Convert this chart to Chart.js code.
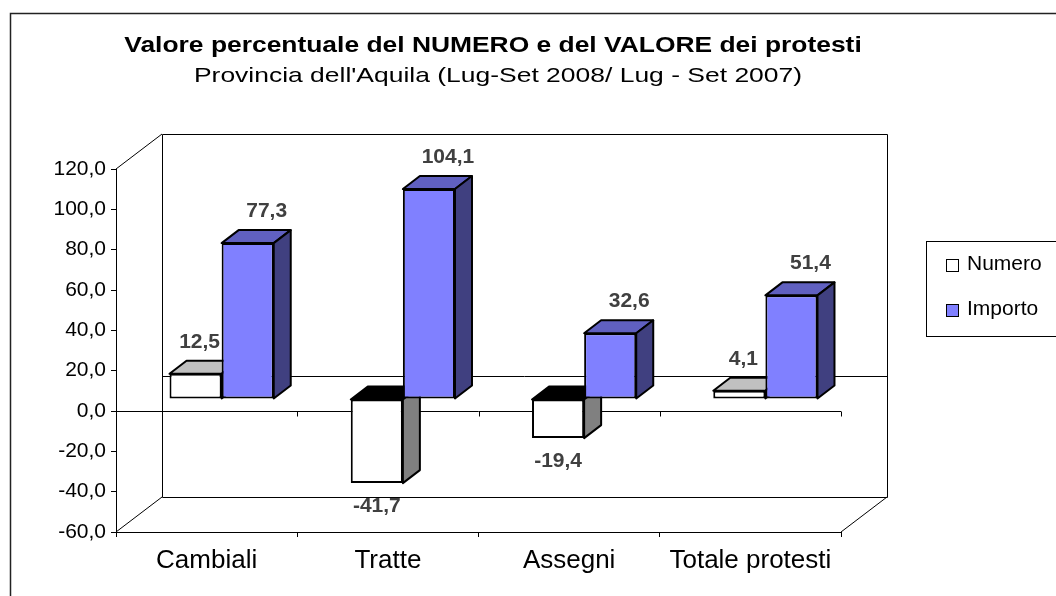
<!DOCTYPE html>
<html>
<head>
<meta charset="utf-8">
<script src="https://cdn.jsdelivr.net/npm/chart.js@4.4.0/dist/chart.umd.min.js"></script>
<style>
  html, body { margin: 0; padding: 0; background: #fff; }
</style>
</head>
<body>
<canvas id="protestiChart" width="1056" height="596"></canvas>
<script>
// data
const categories = ['Cambiali', 'Tratte', 'Assegni', 'Totale protesti'];
const numero = [12.5, -41.7, -19.4, 4.1];
const importo = [77.3, 104.1, 32.6, 51.4];
const yTicks = [-60, -40, -20, 0, 20, 40, 60, 80, 100, 120];

const titleText = 'Valore percentuale del NUMERO e del VALORE dei protesti';
const subtitleText = "Provincia dell'Aquila (Lug-Set 2008/ Lug - Set 2007)";

const FONT = "'Liberation Sans', Arial, sans-serif";

// 3d look: depth of the box, where the bars stand, depth of the bars
const wallDepth = {x: 46, y: -35};
const barShift = {x: 15, y: -12};
const barDepth = {x: 17, y: -13};

const faceColors = [
    {top: '#c0c0c0', topNeg: '#000000', side: '#808080', labelDx: 4},
    {top: '#6060c0', topNeg: '#202040', side: '#404080', labelDx: 19}
];

const fmt = v => v.toFixed(1).replace('.', ',');

function face(ctx, pts, color) {
    ctx.beginPath();
    ctx.moveTo(pts[0][0], pts[0][1]);
    for (let i = 1; i < pts.length; i++) ctx.lineTo(pts[i][0], pts[i][1]);
    ctx.closePath();
    ctx.fillStyle = color;
    ctx.fill();
    ctx.stroke();
}

function stretchedText(ctx, text, cx, baseline, font, sx) {
    ctx.save();
    ctx.font = font;
    ctx.fillStyle = '#000';
    ctx.textAlign = 'center';
    ctx.textBaseline = 'alphabetic';
    ctx.translate(cx, baseline);
    ctx.scale(sx, 1);
    ctx.fillText(text, 0, 0);
    ctx.restore();
}

const box3d = {
    id: 'box3d',
    beforeDraw(chart) {
        const ctx = chart.ctx;
        ctx.save();
        ctx.strokeStyle = '#222';
        ctx.lineWidth = 1.5;
        ctx.beginPath();
        ctx.moveTo(10.5, 600);
        ctx.lineTo(10.5, 13.5);
        ctx.lineTo(1060, 13.5);
        ctx.stroke();
        ctx.restore();
    },
    beforeDatasetsDraw(chart) {
        const {ctx, chartArea: a, scales: {x, y}} = chart;
        const dx = wallDepth.x, dy = wallDepth.y;
        const zero = Math.round(y.getPixelForValue(0)) + 0.5;
        ctx.save();
        ctx.strokeStyle = '#000';
        ctx.lineWidth = 1;
        ctx.beginPath();
        // back wall
        ctx.rect(a.left + dx + 0.5, a.top + dy + 0.5, a.right - a.left, a.bottom - a.top);
        // side wall / floor edges
        ctx.moveTo(a.left, a.top); ctx.lineTo(a.left + dx, a.top + dy);
        ctx.moveTo(a.left, a.bottom); ctx.lineTo(a.left + dx, a.bottom + dy);
        ctx.moveTo(a.right, a.bottom); ctx.lineTo(a.right + dx, a.bottom + dy);
        // zero lines, back and front
        ctx.moveTo(a.left + dx, zero + dy); ctx.lineTo(a.right + dx, zero + dy);
        ctx.moveTo(a.left, zero); ctx.lineTo(a.right, zero);
        for (let i = 0; i <= categories.length; i++) {
            const px = Math.round(x.getPixelForValue(i - 0.5)) + 0.5;
            ctx.moveTo(px, zero); ctx.lineTo(px, zero + 5);
        }
        ctx.stroke();
        ctx.restore();
    },
    // chart.js paints the last dataset first; the boxes are painted below instead,
    // left bar first so the right one hides its side face
    beforeDatasetDraw() {
        return false;
    },
    afterDatasetsDraw(chart) {
        const ctx = chart.ctx;
        ctx.save();
        // bars stand a bit inside the box
        ctx.translate(barShift.x, barShift.y);
        chart.data.datasets.forEach((ds, i) => {
            const c = faceColors[i];
            chart.getDatasetMeta(i).data.forEach(bar => {
                bar.draw(ctx);
                const {x, y, base, width} = bar.getProps(['x', 'y', 'base', 'width'], true);
                const l = x - width / 2, r = x + width / 2;
                const t = Math.min(y, base), b = Math.max(y, base);
                const ddx = barDepth.x, ddy = barDepth.y;
                ctx.save();
                ctx.lineWidth = 2;
                ctx.strokeStyle = '#000';
                ctx.lineJoin = 'round';
                face(ctx, [[l, t], [r, t], [r + ddx, t + ddy], [l + ddx, t + ddy]], y > base ? c.topNeg : c.top);
                face(ctx, [[r, t], [r + ddx, t + ddy], [r + ddx, b + ddy], [r, b]], c.side);
                ctx.restore();
            });
        });

        ctx.font = 'bold 21px ' + FONT;
        ctx.fillStyle = '#404040';
        ctx.textAlign = 'center';
        ctx.textBaseline = 'middle';
        chart.data.datasets.forEach((ds, i) => {
            chart.getDatasetMeta(i).data.forEach((bar, j) => {
                const v = ds.data[j];
                const {x, y} = bar.getProps(['x', 'y'], true);
                if (v >= 0) ctx.fillText(fmt(v), x + faceColors[i].labelDx, y - 32);
                else ctx.fillText(fmt(v), x, y + 23);
            });
        });
        ctx.restore();
    },
    afterDraw(chart) {
        const ctx = chart.ctx;
        stretchedText(ctx, titleText, 493, 52, 'bold 22px ' + FONT, 1.2);
        stretchedText(ctx, subtitleText, 498, 82, '21px ' + FONT, 1.26);

        // legend box
        ctx.save();
        ctx.strokeStyle = '#000';
        ctx.lineWidth = 1;
        ctx.strokeRect(926.5, 241.5, 140, 95);
        ctx.font = '21px ' + FONT;
        ctx.textBaseline = 'middle';
        ctx.textAlign = 'left';
        chart.data.datasets.forEach((ds, i) => {
            const top = 259 + i * 45;
            ctx.fillStyle = ds.backgroundColor;
            ctx.fillRect(946, top, 13, 13);
            ctx.strokeRect(946.5, top + 0.5, 12, 12);
            ctx.fillStyle = '#000';
            ctx.fillText(ds.label, 967, top + 5);
        });
        ctx.restore();
    }
};

new Chart(document.getElementById('protestiChart'), {
    type: 'bar',
    data: {
        labels: categories,
        datasets: [{
            label: 'Numero',
            data: numero,
            backgroundColor: '#ffffff',
            borderColor: '#000000',
            borderWidth: 2,
            borderSkipped: false
        }, {
            label: 'Importo',
            data: importo,
            backgroundColor: '#8080ff',
            borderColor: '#000000',
            borderWidth: 2,
            borderSkipped: false
        }]
    },
    options: {
        responsive: false,
        animation: false,
        categoryPercentage: 0.575,
        barPercentage: 1,
        layout: {padding: {left: 10, top: 169, right: 215, bottom: 0}},
        plugins: {
            legend: {display: false},
            title: {display: false},
            tooltip: {enabled: false}
        },
        scales: {
            x: {
                grid: {offset: true, drawOnChartArea: false, tickLength: 5, color: '#000'},
                border: {color: '#000'},
                ticks: {color: '#000', font: {family: FONT, size: 26}, padding: 8, maxRotation: 0, autoSkip: false},
                afterFit: s => { s.height = 64; }
            },
            y: {
                min: yTicks[0],
                max: yTicks[yTicks.length - 1],
                grid: {drawOnChartArea: false, tickLength: 5, color: '#000'},
                border: {color: '#000'},
                ticks: {color: '#000', font: {family: FONT, size: 21}, padding: 5, callback: v => fmt(v)},
                afterBuildTicks: s => { s.ticks = yTicks.map(v => ({value: v})); },
                afterFit: s => { s.width = 106; }
            }
        }
    },
    plugins: [box3d]
});
</script>
</body>
</html>
